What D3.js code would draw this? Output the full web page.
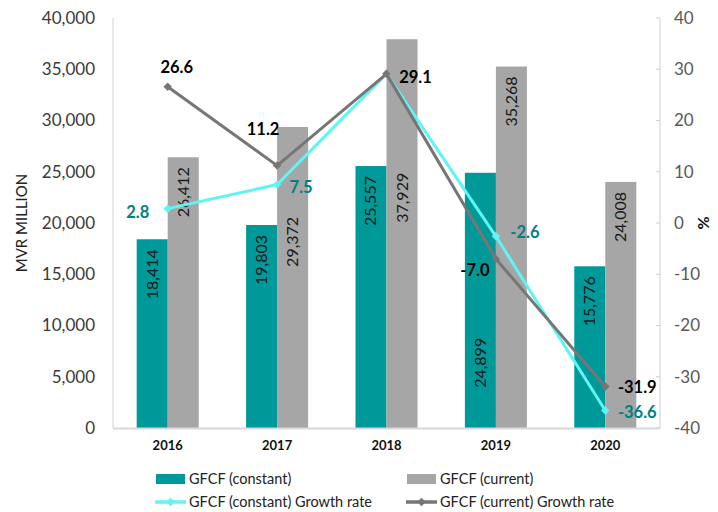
<!DOCTYPE html>
<html>
<head>
<meta charset="utf-8">
<script src="https://cdn.jsdelivr.net/npm/d3@7"></script>
<style>
  html, body { margin: 0; padding: 0; background: #fff; }
  svg { display: block; font-family: Lato, "Liberation Sans", sans-serif; }
</style>
</head>
<body>
<svg id="chart" width="718" height="512"></svg>
<script>
const years = ["2016", "2017", "2018", "2019", "2020"];
const gfcfConstant = [18414, 19803, 25557, 24899, 15776];
const gfcfCurrent = [26412, 29372, 37929, 35268, 24008];
const growthConstant = [2.8, 7.5, 29.1, -2.6, -36.6];
const growthCurrent = [26.6, 11.2, 29.1, -7.0, -31.9];
const leftTicks = [0, 5000, 10000, 15000, 20000, 25000, 30000, 35000, 40000];
const rightTicks = [-40, -30, -20, -10, 0, 10, 20, 30, 40];
const seriesNames = ["GFCF (constant)", "GFCF (current)", "GFCF (constant) Growth rate", "GFCF (current) Growth rate"];

const C_TEAL = "#009999", C_GRAY = "#a6a6a6", C_CYAN = "#5ff5f5", C_LINE = "#767676", C_LABEL_TEAL = "#008080";

const svg = d3.select("#chart");
const plot = { left: 113, right: 660, top: 18, bottom: 428 };

const x = d3.scaleBand().domain(years).range([plot.left, plot.right]).paddingInner(0.433).paddingOuter(0.2165);
const xs = d3.scaleBand().domain(["constant", "current"]).range([0, x.bandwidth()]).padding(0);
const y = d3.scaleLinear().domain([0, 40000]).range([plot.bottom, plot.top]);
const y2 = d3.scaleLinear().domain([-40, 40]).range([plot.bottom, plot.top]);
const cx = d => x(d) + x.bandwidth() / 2;

// bars
const bars = [
  { key: "constant", vals: gfcfConstant, color: C_TEAL },
  { key: "current", vals: gfcfCurrent, color: C_GRAY }
];
bars.forEach(s => {
  svg.append("g").selectAll("rect").data(years).join("rect")
    .attr("x", (d) => x(d) + xs(s.key))
    .attr("width", xs.bandwidth())
    .attr("y", (d, i) => y(s.vals[i]))
    .attr("height", (d, i) => y(0) - y(s.vals[i]))
    .attr("fill", s.color);
});

// bar value labels (rotated). Most sit at inside end; a few were moved in the original to avoid lines.
const movedLabelTop = { "current-2017": 20600, "current-2018": 24900, "constant-2019": 8800 };
bars.forEach(s => {
  svg.append("g").selectAll("text").data(years).join("text")
    .attr("transform", (d, i) => {
      const k = s.key + "-" + d;
      const topY = movedLabelTop[k] !== undefined ? y(movedLabelTop[k]) : y(s.vals[i]) + 10;
      const px = x(d) + xs(s.key) + xs.bandwidth() / 2 + 5.5;
      return `translate(${px},${topY}) rotate(-90)`;
    })
    .attr("text-anchor", "end")
    .attr("font-size", 16)
    .attr("fill", "#1a1a1a")
    .text((d, i) => d3.format(",")(s.vals[i]));
});

// axes
const axisColor = "#d0d0d0";
svg.append("line").attr("x1", plot.left).attr("x2", plot.left).attr("y1", plot.top).attr("y2", plot.bottom)
  .attr("stroke", axisColor).attr("stroke-width", 1);
svg.append("line").attr("x1", plot.right).attr("x2", plot.right).attr("y1", plot.top).attr("y2", plot.bottom)
  .attr("stroke", axisColor).attr("stroke-width", 1);
svg.append("line").attr("x1", plot.left).attr("x2", plot.right).attr("y1", plot.bottom + 0.5).attr("y2", plot.bottom + 0.5)
  .attr("stroke", "#d9d9d9").attr("stroke-width", 2);

const gl = svg.append("g").attr("transform", `translate(${plot.left},0)`)
  .call(d3.axisLeft(y).tickValues(leftTicks).tickFormat(d3.format(",")).tickSize(0).tickPadding(18));
gl.select(".domain").remove();
gl.selectAll("text").attr("font-size", 17).attr("fill", "#3a3a3a").attr("font-family", "Lato, sans-serif");

const gr = svg.append("g").attr("transform", `translate(${plot.right},0)`)
  .call(d3.axisRight(y2).tickValues(rightTicks).tickFormat(d => String(d)).tickSize(0).tickPadding(14));
gr.select(".domain").remove();
gr.selectAll("text").attr("font-size", 17).attr("fill", "#595959").attr("font-family", "Lato, sans-serif");
svg.append("g").selectAll("line").data(rightTicks).join("line")
  .attr("x1", plot.right - 4).attr("x2", plot.right).attr("y1", d => y2(d)).attr("y2", d => y2(d))
  .attr("stroke", axisColor);

const gx = svg.append("g").attr("transform", `translate(0,${plot.bottom})`)
  .call(d3.axisBottom(x).tickSize(0).tickPadding(13));
gx.select(".domain").remove();
gx.selectAll("text").attr("font-size", 13).attr("font-weight", "bold").attr("fill", "#111").attr("font-family", "Lato, sans-serif");

svg.append("text").attr("transform", `translate(27,${(plot.top + plot.bottom) / 2}) rotate(-90)`)
  .attr("text-anchor", "middle").attr("font-size", 15).attr("fill", "#222").text("MVR MILLION");
svg.append("text").attr("transform", `translate(709,${(plot.top + plot.bottom) / 2}) rotate(-90)`)
  .attr("text-anchor", "middle").attr("font-size", 16).attr("font-weight", "bold").attr("fill", "#111").text("%");

// lines
const diamond = d3.symbol().type(d3.symbolSquare).size(36);
const lines = [
  { vals: growthConstant, color: C_CYAN, labelColor: C_LABEL_TEAL },
  { vals: growthCurrent, color: C_LINE, labelColor: "#000" }
];
lines.forEach(s => {
  const line = d3.line().x((d, i) => cx(years[i])).y(d => y2(d));
  svg.append("path").datum(s.vals).attr("d", line).attr("fill", "none")
    .attr("stroke", s.color).attr("stroke-width", 3).attr("stroke-linejoin", "round");
  svg.append("g").selectAll("path").data(s.vals).join("path")
    .attr("transform", (d, i) => `translate(${cx(years[i])},${y2(d)}) rotate(45)`)
    .attr("d", diamond).attr("fill", s.color);
});

// point labels: offsets (dx, dy in px relative to marker centre)
const labelPlace = [
  [ { dx: -30, dy: 4 }, { dx: 24, dy: 3 }, null, { dx: 29, dy: -4 }, { dx: 32, dy: 2 } ],
  [ { dx: 9, dy: -19 }, { dx: -14, dy: -36 }, { dx: 29, dy: 3 }, { dx: -21, dy: 11 }, { dx: 32, dy: 1 } ]
];
lines.forEach((s, si) => {
  const pts = s.vals.map((v, i) => ({ v, i, p: labelPlace[si][i] })).filter(d => d.p !== null);
  svg.append("g").selectAll("text").data(pts).join("text")
    .attr("x", d => cx(years[d.i]) + d.p.dx)
    .attr("y", d => y2(d.v) + d.p.dy)
    .attr("dy", "0.35em")
    .attr("text-anchor", "middle")
    .attr("font-size", 16.5).attr("font-weight", "bold")
    .attr("fill", s.labelColor)
    .text(d => d3.format(".1f")(d.v).replace("−", "-"));
});

// legend
const legend = svg.append("g");
const legItems = [
  { name: seriesNames[0], type: "rect", color: C_TEAL, x: 156, y: 479 },
  { name: seriesNames[1], type: "rect", color: C_GRAY, x: 407, y: 479 },
  { name: seriesNames[2], type: "line", color: C_CYAN, x: 155, y: 502 },
  { name: seriesNames[3], type: "line", color: C_LINE, x: 406, y: 502 }
];
legItems.forEach(it => {
  if (it.type === "rect") {
    legend.append("rect").attr("x", it.x).attr("y", it.y - 5).attr("width", 29).attr("height", 10).attr("fill", it.color);
  } else {
    legend.append("line").attr("x1", it.x).attr("x2", it.x + 31).attr("y1", it.y).attr("y2", it.y)
      .attr("stroke", it.color).attr("stroke-width", 3.5);
    legend.append("path").attr("transform", `translate(${it.x + 15.5},${it.y}) rotate(45)`).attr("d", diamond).attr("fill", it.color);
  }
  legend.append("text").attr("x", 189 + (it.x >= 400 ? 251 : 0)).attr("y", it.y).attr("dy", "0.35em")
    .attr("font-size", 14.5).attr("fill", "#222").text(it.name);
});
</script>
</body>
</html>
